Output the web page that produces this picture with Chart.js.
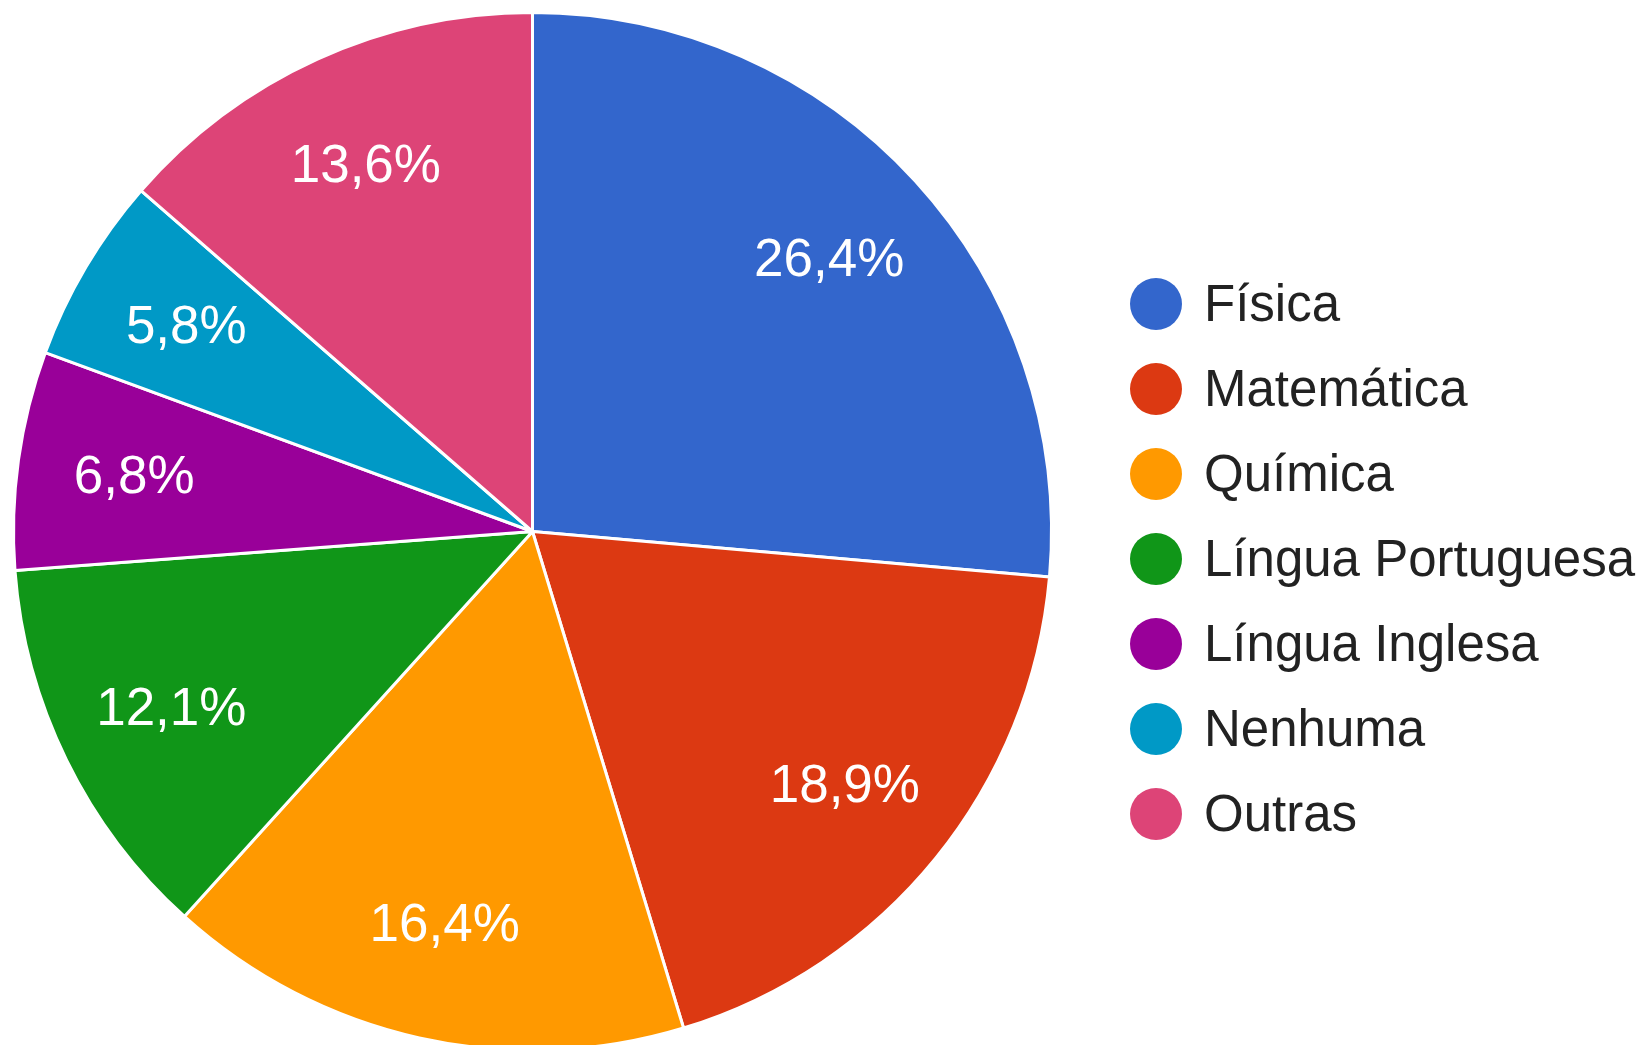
<!DOCTYPE html>
<html>
<head>
<meta charset="utf-8">
<script src="https://cdn.jsdelivr.net/npm/chart.js@4"></script>
<style>
    body { margin: 0; background: #fff; }
    #wrap { position: relative; width: 1644px; height: 1045px; overflow: hidden; }
    #legend { position: absolute; left: 1130px; top: 278px; margin: 0; padding: 0; list-style: none;
        font-family: "Liberation Sans", Arial, sans-serif; font-size: 51px; color: #222; }
    #legend li { height: 85px; line-height: 52px; white-space: nowrap; }
    #legend span { display: inline-block; width: 52px; height: 52px; border-radius: 50%;
        vertical-align: top; margin-right: 22px; }
</style>
</head>
<body>
<div id="wrap">
    <canvas id="myChart" width="1644" height="1062"></canvas>
    <ul id="legend"></ul>
</div>
<script>
const disciplinas = ["Física", "Matemática", "Química", "Língua Portuguesa", "Língua Inglesa", "Nenhuma", "Outras"];
const percentuais = [26.4, 18.9, 16.4, 12.1, 6.8, 5.8, 13.6];
const cores = ["#3366cc", "#dc3912", "#ff9900", "#109618", "#990099", "#0099c6", "#dd4477"];

// rótulos de porcentagem dentro das fatias
const rotulos = {
    id: "rotulos",
    afterDatasetsDraw(chart) {
        const ctx = chart.ctx;
        const arcs = chart.getDatasetMeta(0).data;
        ctx.save();
        ctx.fillStyle = "#fff";
        ctx.font = "53px 'Liberation Sans', Arial, sans-serif";
        ctx.textAlign = "center";
        ctx.textBaseline = "middle";
        arcs.forEach((arc, i) => {
            const p = arc.getProps(["x", "y", "startAngle", "endAngle", "outerRadius"]);
            const meio = (p.startAngle + p.endAngle) / 2;
            const r = p.outerRadius * 0.775;
            const tx = p.x + Math.cos(meio) * r;
            const ty = p.y + Math.sin(meio) * r;
            ctx.fillText(percentuais[i].toFixed(1).replace(".", ",") + "%", tx, ty + 2);
        });
        ctx.restore();
    }
};

new Chart("myChart", {
    type: "pie",
    data: {
        labels: disciplinas,
        datasets: [{
            data: percentuais,
            backgroundColor: cores,
            borderColor: "#fff",
            borderWidth: 3
        }]
    },
    options: {
        responsive: false,
        animation: false,
        layout: { padding: { left: 12, right: 591, top: 11, bottom: 10 } },
        plugins: {
            legend: { display: false },
            tooltip: { enabled: false }
        }
    },
    plugins: [rotulos]
});

const legend = document.getElementById("legend");
disciplinas.forEach((nome, i) => {
    const li = document.createElement("li");
    li.innerHTML = '<span style="background:' + cores[i] + '"></span>' + nome;
    legend.appendChild(li);
});
</script>
</body>
</html>
